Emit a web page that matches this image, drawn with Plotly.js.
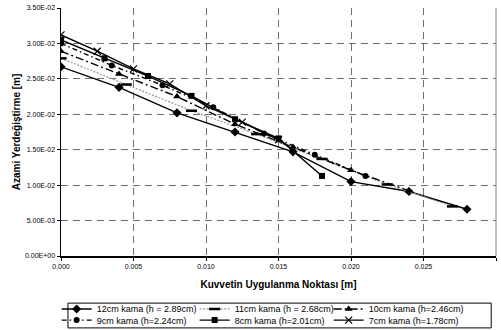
<!DOCTYPE html>
<html>
<head>
<meta charset="utf-8">
<script src="https://cdn.plot.ly/plotly-3.0.1.min.js"></script>
<style>html,body{margin:0;padding:0;background:#fff;}#chart{width:501px;height:330px;}</style>
</head>
<body>
<div id="chart"></div>
<script>
// Series names
const names = [
  "12cm kama (h = 2.89cm)",
  "11cm kama (h = 2.68cm)",
  "10cm kama (h=2.46cm)",
  "9cm kama (h=2.24cm)",
  "8cm kama (h=2.01cm)",
  "7cm kama (h=1.78cm)"
];
// x values (force application point, m)
const x12 = [0, 0.004, 0.008, 0.012, 0.016, 0.020, 0.024, 0.028];
const x11 = [0, 0.0045, 0.009, 0.0135, 0.018, 0.0225, 0.027];
const x10 = [0, 0.004, 0.008, 0.012, 0.016, 0.020, 0.024];
const x9  = [0, 0.0035, 0.007, 0.0105, 0.014, 0.0175, 0.021];
const x8  = [0, 0.003, 0.006, 0.009, 0.012, 0.015, 0.018];
const x7  = [0, 0.0025, 0.005, 0.0075, 0.010, 0.0125, 0.015];
// y values (max deflection, m)
const y12 = [0.0267, 0.0238, 0.0202, 0.0175, 0.0147, 0.0105, 0.0091, 0.0066];
const y11 = [0.0279, 0.0242, 0.0205, 0.0172, 0.0137, 0.0101, 0.0070];
const y10 = [0.0289, 0.0257, 0.0225, 0.0186, 0.0154, 0.0121, 0.0092];
const y9  = [0.0300, 0.0269, 0.0241, 0.0210, 0.0173, 0.0143, 0.0113];
const y8  = [0.0305, 0.0279, 0.0254, 0.0226, 0.0193, 0.0166, 0.0113];
const y7  = [0.0312, 0.0289, 0.0264, 0.0243, 0.0212, 0.0189, 0.0164];
// tick labels
const yTickVals = [0, 0.005, 0.010, 0.015, 0.020, 0.025, 0.030, 0.035];
const yTickText = ["0.00E+00","5.00E-03","1.00E-02","1.50E-02","2.00E-02","2.50E-02","3.00E-02","3.50E-02"];
const xTickVals = [0, 0.005, 0.010, 0.015, 0.020, 0.025, 0.030];
const xTickText = ["0.000","0.005","0.010","0.015","0.020","0.025","0.03"];

const FONT = "Liberation Sans, Arial, sans-serif";
const colW = [93, 89, 90];

const traces = [
  {x: x12, y: y12, name: names[0], mode: "lines+markers", legend: "legend", legendwidth: colW[0],
   line: {color: "#000", width: 1.4},
   marker: {symbol: "diamond", size: 7, color: "#000"}},
  {x: x11, y: y11, name: names[1], mode: "lines+markers", legend: "legend", legendwidth: colW[1],
   line: {color: "#999", width: 1.2, dash: "2px,1.5px"},
   marker: {symbol: "line-ew", size: 8, color: "#000", line: {color: "#000", width: 2.5}}},
  {x: x10, y: y10, name: names[2], mode: "lines+markers", legend: "legend", legendwidth: colW[2],
   line: {color: "#000", width: 1.4, dash: "8px,3px,2px,3px"},
   marker: {symbol: "triangle-up", size: 7, color: "#000"}},
  {x: x9, y: y9, name: names[3], mode: "lines+markers", legend: "legend2", legendwidth: colW[0],
   line: {color: "#000", width: 1.4, dash: "5px,3px,1.5px,3px"},
   marker: {symbol: "circle", size: 6, color: "#000"}},
  {x: x8, y: y8, name: names[4], mode: "lines+markers", legend: "legend2", legendwidth: colW[1],
   line: {color: "#000", width: 1.4},
   marker: {symbol: "square", size: 6, color: "#000"}},
  {x: x7, y: y7, name: names[5], mode: "lines+markers", legend: "legend2", legendwidth: colW[2],
   line: {color: "#000", width: 1.4},
   marker: {symbol: "x-thin", size: 7, color: "#000", line: {color: "#000", width: 1.2}}}
];

const legendBase = {
  orientation: "h", xanchor: "left", yanchor: "top", x: -0.01,
  borderwidth: 0, bgcolor: "rgba(0,0,0,0)",
  font: {size: 9, family: FONT}, tracegroupgap: 0, itemwidth: 30
};

const layout = {
  width: 501, height: 330,
  margin: {l: 61, r: 5, t: 8, b: 74, autoexpand: false},
  paper_bgcolor: "#fff", plot_bgcolor: "#fff",
  font: {family: FONT, color: "#000", size: 7},
  showlegend: true,
  xaxis: {
    range: [0, 0.03], tickvals: xTickVals, ticktext: xTickText, tickangle: 0,
    showgrid: true, gridcolor: "#707070", griddash: "7px,5px", gridwidth: 1,
    showline: true, linecolor: "#000", linewidth: 1.5, zeroline: false,
    ticks: "outside", ticklen: 3, tickcolor: "#000",
    tickfont: {size: 7, family: FONT},
    title: {text: "Kuvvetin Uygulanma Noktası [m]", font: {size: 10, family: FONT, weight: "bold"}, standoff: 12},
    automargin: false
  },
  yaxis: {
    range: [0, 0.035], tickvals: yTickVals, ticktext: yTickText,
    showgrid: true, gridcolor: "#707070", griddash: "7px,5px", gridwidth: 1,
    showline: true, linecolor: "#000", linewidth: 1.5, zeroline: false,
    ticks: "outside", ticklen: 3, tickcolor: "#000",
    tickfont: {size: 7, family: FONT},
    title: {text: "Azami Yerdeğiştirme [m]", font: {size: 10, family: FONT, weight: "bold"}, standoff: 2},
    automargin: false
  },
  legend: Object.assign({}, legendBase, {y: -0.155}),
  legend2: Object.assign({}, legendBase, {y: -0.200}),
  shapes: [
    {type: "line", xref: "paper", yref: "paper", x0: 1, x1: 1, y0: 0, y1: 1,
     line: {color: "#808080", width: 1}},
    {type: "rect", xref: "paper", yref: "paper", x0: 0.016, x1: 0.989, y0: -0.19, y1: -0.29,
     line: {color: "#000", width: 1}, fillcolor: "rgba(0,0,0,0)"}
  ]
};

Plotly.newPlot("chart", traces, layout, {displayModeBar: false, staticPlot: true});
</script>
</body>
</html>
